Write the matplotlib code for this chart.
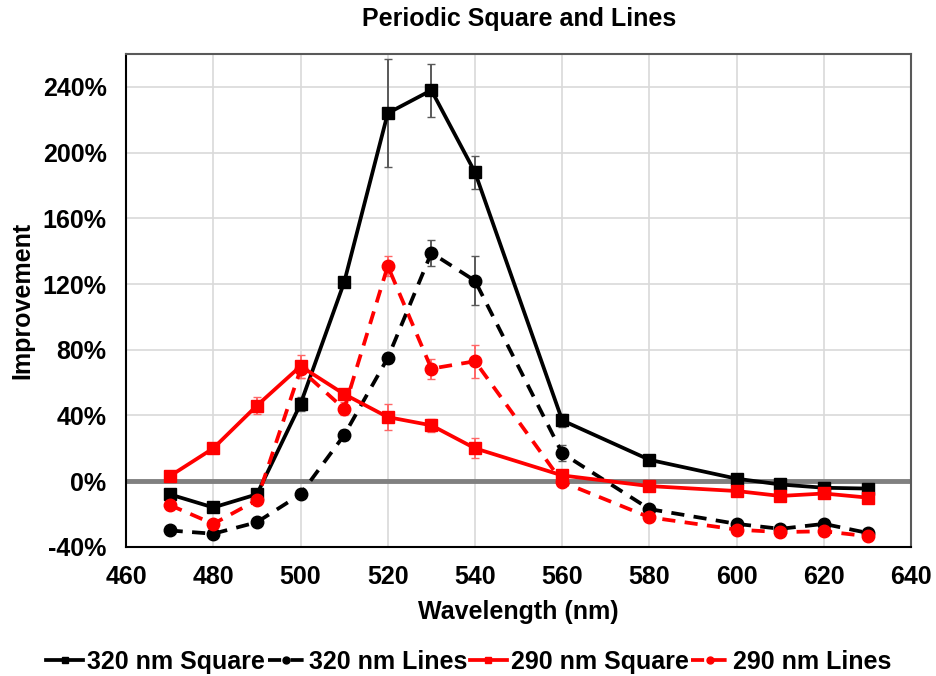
import matplotlib.pyplot as plt
from matplotlib.lines import Line2D
from matplotlib.ticker import FuncFormatter

plt.rcParams['font.family'] = ['Liberation Sans', 'DejaVu Sans']
plt.rcParams['font.weight'] = 'bold'

wl = [470, 480, 490, 500, 510, 520, 530, 540, 560, 580, 600, 610, 620, 630]

sq320 = [-8, -16, -8, 47, 121, 224, 238, 188, 37, 13, 1.5, -2, -4, -4.5]
sq320_err = [1.5, 1.5, 1.5, 4, 2, 33, 16, 10, 4, 1.5, 1, 1, 1, 1]

ln320 = [-30, -32, -25, -8, 28, 75, 139, 122, 17, -17, -26, -29, -26, -31.5]
ln320_err = [1, 1, 1, 1.5, 3, 3, 8, 15, 5, 2, 1.5, 1, 1.5, 1]

sq290 = [3, 20, 46, 70, 53, 39, 34, 20, 3.5, -3, -6, -9, -7.5, -10]
sq290_err = [1, 3, 5, 7, 3, 8, 4, 6, 2, 3, 1.5, 1.5, 1.5, 1]

ln290 = [-14.5, -26, -11.5, 68, 44, 131, 68.5, 73, -0.5, -22, -29.5, -31, -30.5, -33.5]
ln290_err = [1.5, 2, 1.5, 5, 4, 6, 6, 10, 2, 2, 1.5, 1, 1, 1]

series = [
    (sq320, sq320_err, 'black', '#595959', '-', 's', 8, '320 nm Square'),
    (ln320, ln320_err, 'black', '#595959', (0, (3.5, 2.5)), 'o', 9, '320 nm Lines'),
    (sq290, sq290_err, 'red', '#ff6666', '-', 's', 8, '290 nm Square'),
    (ln290, ln290_err, 'red', '#ff6666', (0, (3.5, 2.5)), 'o', 9, '290 nm Lines'),
]

fig = plt.figure(figsize=(9.37, 6.76), dpi=100)
ax = fig.add_axes([0.1345, 0.191, 0.838, 0.729])

ax.axhline(0, color='#808080', lw=3.5, zorder=1)

handles = []
for vals, err, c, ec, ls, mk, ms, name in series:
    ax.errorbar(wl, vals, yerr=err, color=c, lw=2.7, ls=ls, marker=mk, ms=ms,
                ecolor=ec, elinewidth=1.4, capsize=3, zorder=3)
    handles.append(Line2D([], [], color=c, lw=2.7, ls=ls, marker=mk, ms=5, label=name))

ax.set_xlim(460, 640)
ax.set_ylim(-40, 260)
ax.set_xticks(range(460, 641, 20))
ax.set_yticks(range(-40, 241, 40))
ax.yaxis.set_major_formatter(FuncFormatter(lambda v, p: f'{int(v)}%'))
ax.tick_params(labelsize=18, length=0)
ax.tick_params(axis='y', pad=14)
ax.tick_params(axis='x', pad=13)
for lab in ax.get_xticklabels() + ax.get_yticklabels():
    lab.set_fontweight('bold')
ax.grid(True, color='#d9d9d9', lw=1.2, zorder=0)
ax.set_axisbelow(True)
for s in ['top', 'right']:
    ax.spines[s].set_color('#595959')
    ax.spines[s].set_linewidth(1.5)
for s in ['left', 'bottom']:
    ax.spines[s].set_color('black')
    ax.spines[s].set_linewidth(1.5)

ax.set_title('Periodic Square and Lines', fontsize=18, fontweight='bold', pad=20)
ax.set_xlabel('Wavelength (nm)', fontsize=18, fontweight='bold', labelpad=8)
ax.set_ylabel('Improvement', fontsize=18, fontweight='bold', labelpad=6)

fig.legend(handles=handles, loc='lower center', bbox_to_anchor=(0.5, -0.03), ncol=4,
           frameon=False, handlelength=1.5, handletextpad=0.15, columnspacing=0.1,
           prop={'weight': 'bold', 'size': 18})

plt.savefig('out.png', dpi=100)
